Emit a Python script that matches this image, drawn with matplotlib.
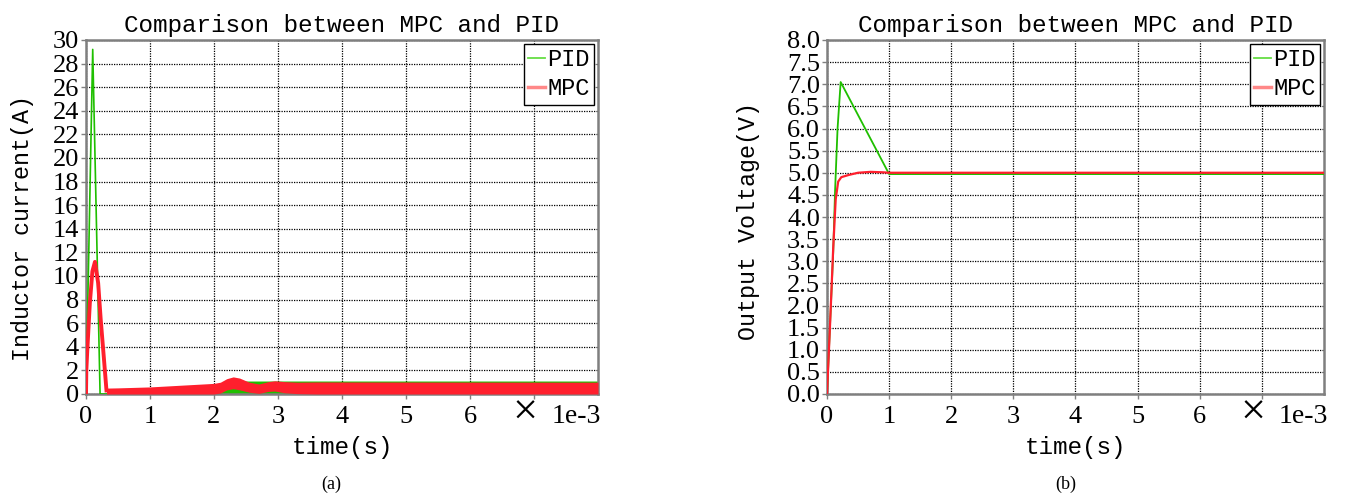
import numpy as np
import matplotlib
matplotlib.use("Agg")
import matplotlib.pyplot as plt
from matplotlib.lines import Line2D

# ---------------- data (time in ms) ----------------
# (a) inductor current
pid_i_t = [0.0, 0.105, 0.22, 0.33]
pid_i_v = [0.0, 29.2, 0.0, 0.0]
# PID switching ripple band (lower / upper envelope)
pid_band_t = [0.22, 2.10, 2.30, 2.50, 8.0]
pid_band_lo = [0.0, 0.0, 0.0, 0.0, 0.0]
pid_band_hi = [0.0, 0.80, 1.05, 1.10, 1.10]

mpc_i_t = [0.0, 0.005, 0.02, 0.06, 0.10, 0.14, 0.19, 0.23, 0.28, 0.32]
mpc_i_v = [0.0, 2.0, 3.7, 7.7, 10.4, 11.2, 9.4, 6.3, 3.0, 0.3]
# MPC switching ripple band
mpc_band_t = [0.32, 0.50, 1.00, 1.50, 2.00, 2.10, 2.20, 2.30, 2.40, 2.55, 2.70,
              2.85, 2.95, 3.10, 3.30, 3.60, 8.0]
mpc_band_lo = [0.0, 0.0, 0.0, 0.0, 0.0, 0.08, 0.35, 0.45, 0.35, 0.15, 0.05,
               0.22, 0.25, 0.10, 0.03, 0.0, 0.0]
mpc_band_hi = [0.50, 0.52, 0.60, 0.75, 0.90, 1.00, 1.30, 1.45, 1.35, 1.00, 0.85,
               1.05, 1.12, 1.05, 1.00, 1.02, 1.00]

# (b) output voltage
pid_v_t = [0.0, 0.05, 0.10, 0.13, 0.17, 0.22, 1.0, 8.0]
pid_v_v = [0.0, 1.6, 3.2, 4.6, 6.0, 7.05, 4.97, 4.97]
mpc_v_t = [0.0, 0.05, 0.10, 0.14, 0.18, 0.23, 0.35, 0.50, 0.70, 0.90, 1.0, 8.0]
mpc_v_v = [0.0, 1.6, 3.3, 4.4, 4.8, 4.9, 4.95, 5.0, 5.02, 5.01, 5.0, 5.0]

x_ticks = [0, 1, 2, 3, 4, 5, 6, 7]
x_tick_labels = ["0", "1", "2", "3", "4", "5", "6", ""]
yi_ticks = list(range(0, 31, 2))
yv_ticks = [0.0, 0.5, 1.0, 1.5, 2.0, 2.5, 3.0, 3.5, 4.0, 4.5, 5.0, 5.5, 6.0, 6.5, 7.0, 7.5, 8.0]

GREEN = "#1fbf00"
RED = "#ff1f2d"
GREEN_L = "#66dd44"
RED_L = "#ff8888"
MONO = "Liberation Mono"
SERIF = "Liberation Serif"

W, H = 1355, 495
fig = plt.figure(figsize=(W / 100, H / 100), dpi=100)


def ms(a):
    return np.asarray(a, dtype=float) * 1e-3


def style_axes(ax, yticks, ylabels, ylabel, ylab_x, ylab_y):
    ax.set_xlim(0, 8e-3)
    ax.set_xticks(ms(x_ticks))
    ax.set_xticklabels(x_tick_labels)
    ax.set_ylim(yticks[0], yticks[-1])
    ax.set_yticks(yticks)
    ax.set_yticklabels(ylabels)
    for lab in ax.get_xticklabels() + ax.get_yticklabels():
        lab.set_fontfamily(SERIF)
        lab.set_fontsize(19)
    ax.tick_params(axis="both", direction="out", length=3.5, width=1,
                   color="#808080", pad=1.5)
    ax.tick_params(axis="x", pad=5)
    for sp in ax.spines.values():
        sp.set_color("#7f7f7f")
        sp.set_linewidth(1.8)
    ax.grid(True, color="black", linestyle=(0, (1, 1)), linewidth=0.9)
    ax.set_axisbelow(True)
    ax.set_title("Comparison between MPC and PID", fontfamily=MONO,
                 fontsize=17.5, pad=6)
    ax.set_xlabel("time(s)", fontfamily=MONO, fontsize=17.5)
    ax.xaxis.set_label_coords(0.5, -0.118)
    ax.set_ylabel(ylabel, fontfamily=MONO, fontsize=16.8)
    ax.yaxis.set_label_coords(ylab_x, ylab_y)
    # offset text "× 1e-3" placed where the tick label 7 would be
    ax.text(6.86e-3, -0.055, "\u00d7", transform=ax.get_xaxis_transform(),
            ha="center", va="center", fontfamily=SERIF, fontsize=32)
    ax.text(7.27e-3, -0.028, "1e-3", transform=ax.get_xaxis_transform(),
            ha="left", va="top", fontfamily=SERIF, fontsize=20)
    handles = [Line2D([], [], color=GREEN_L, lw=1.3),
               Line2D([], [], color=RED_L, lw=2.5)]
    leg = ax.legend(handles, ["PID", "MPC"], loc="upper right",
                    prop={"family": MONO, "size": 17}, frameon=True,
                    fancybox=False, framealpha=1, edgecolor="black",
                    handlelength=0.7, handletextpad=0.1, borderpad=0.2,
                    labelspacing=0.25, borderaxespad=0.15)
    leg.get_frame().set_linewidth(1.0)


# ---------------- (a) ----------------
ax1 = fig.add_axes([86 / W, (H - 394) / H, (598 - 86) / W, 354 / H])
ax1.fill_between(ms(pid_band_t), pid_band_lo, pid_band_hi, color=GREEN, lw=0, zorder=2)
ax1.plot(ms(pid_i_t), pid_i_v, color=GREEN, lw=1.2, zorder=3)
ax1.fill_between(ms(mpc_band_t), mpc_band_lo, mpc_band_hi, color=RED, lw=0, zorder=4)
ax1.plot(ms(mpc_i_t), mpc_i_v, color=RED, lw=2.8, zorder=5)
style_axes(ax1, yi_ticks, [str(v) for v in yi_ticks], "Inductor current(A)", -0.102, 0.47)

# ---------------- (b) ----------------
ax2 = fig.add_axes([827 / W, (H - 394) / H, (1324 - 827) / W, 354 / H])
ax2.plot(ms(pid_v_t), pid_v_v, color=GREEN, lw=1.3, zorder=3)
ax2.plot(ms(mpc_v_t), mpc_v_v, color=RED, lw=1.6, zorder=4)
style_axes(ax2, yv_ticks, ["%.1f" % v for v in yv_ticks], "Output Voltage(V)", -0.135, 0.49)

fig.text(331 / W, 1 - 484 / H, "(a)", ha="center", va="center",
         fontfamily=SERIF, fontsize=13)
fig.text(1066 / W, 1 - 484 / H, "(b)", ha="center", va="center",
         fontfamily=SERIF, fontsize=13)

fig.savefig("out.png", dpi=100)
